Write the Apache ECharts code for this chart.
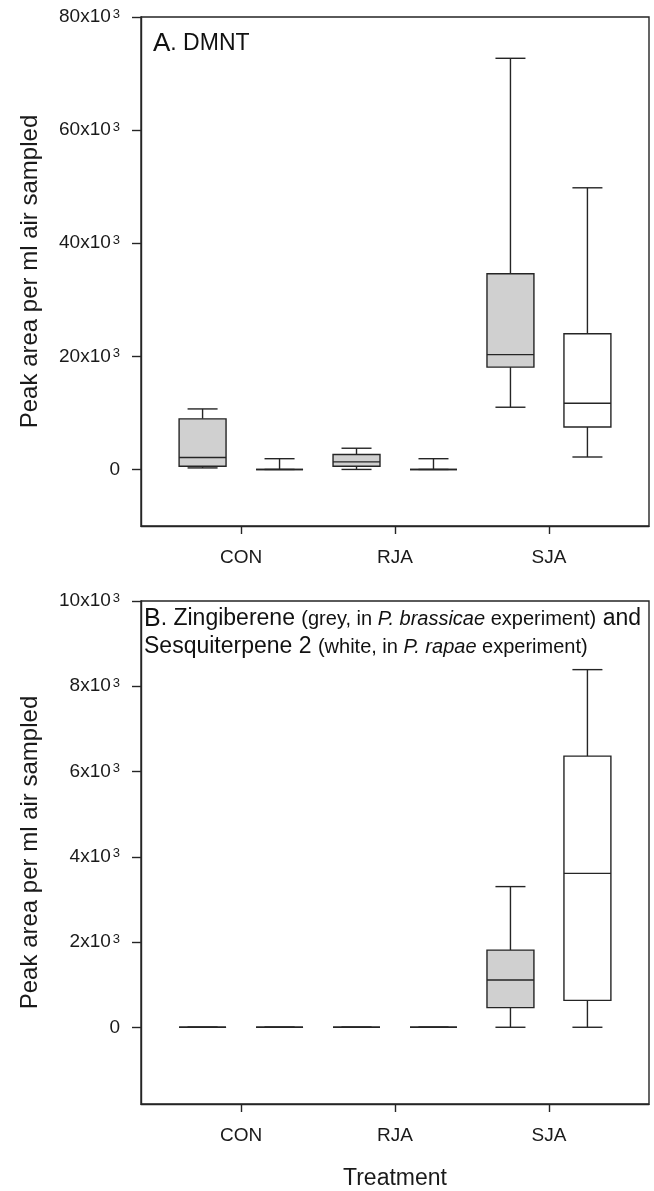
<!DOCTYPE html>
<html>
<head>
<meta charset="utf-8">
<script src="https://cdn.jsdelivr.net/npm/echarts@6/dist/echarts.min.js"></script>
<style>
html,body{margin:0;padding:0;background:#fff;}
#chart{width:654px;height:1191px;}
</style>
</head>
<body>
<div id="chart"></div>
<script>
const categories = ['CON', 'RJA', 'SJA'];
// box stats per treatment: [min, q1, median, q3, max]
const dmntGrey  = [[270, 560, 2100, 8950, 10700], [0, 560, 1330, 2630, 3750], [11000, 18100, 20300, 34600, 72700]];
const dmntWhite = [[0, 0, 0, 0, 1900], [0, 0, 0, 0, 1900], [2200, 7500, 11700, 24000, 49800]];
const sesqGrey  = [[0, 0, 0, 0, 0], [0, 0, 0, 0, 0], [0, 460, 1110, 1810, 3300]];
const sesqWhite = [[0, 0, 0, 0, 0], [0, 0, 0, 0, 0], [0, 630, 3610, 6360, 8390]];
const dmntTicks = [0, 20000, 40000, 60000, 80000];
const sesqTicks = [0, 2000, 4000, 6000, 8000, 10000];
const catTicks = [1, 2, 3];

const FONT = '"Liberation Sans", Arial, Helvetica, sans-serif';
const LINE = '#252525';
const GREY = '#d0d0d0';
const BOX_W = 0.305, CAP_W = 0.195;

function renderBox(fill){
  return function(params, api){
    const x = api.value(0);
    const lo = api.coord([x, api.value(1)]);
    const q1 = api.coord([x, api.value(2)]);
    const md = api.coord([x, api.value(3)]);
    const q3 = api.coord([x, api.value(4)]);
    const hi = api.coord([x, api.value(5)]);
    const bl = api.coord([x - BOX_W / 2, 0])[0], br = api.coord([x + BOX_W / 2, 0])[0];
    const cl = api.coord([x - CAP_W / 2, 0])[0], cr = api.coord([x + CAP_W / 2, 0])[0];
    const cx = lo[0];
    const st = { stroke: LINE, lineWidth: 1.4 };
    return { type: 'group', children: [
      { type: 'line', shape: { x1: cx, y1: hi[1], x2: cx, y2: q3[1] }, style: st },
      { type: 'line', shape: { x1: cx, y1: q1[1], x2: cx, y2: lo[1] }, style: st },
      { type: 'line', shape: { x1: cl, y1: hi[1], x2: cr, y2: hi[1] }, style: st },
      { type: 'line', shape: { x1: cl, y1: lo[1], x2: cr, y2: lo[1] }, style: st },
      { type: 'rect', shape: { x: bl, y: q3[1], width: br - bl, height: q1[1] - q3[1] }, style: { fill: fill, stroke: LINE, lineWidth: 1.4 } },
      { type: 'line', shape: { x1: bl, y1: md[1], x2: br, y2: md[1] }, style: st }
    ]};
  };
}

function boxData(stats, offset){
  return stats.map((s, i) => [i + 1 + offset].concat(s));
}

function sciLabel(v){
  if (v === 0) return '{n|0}';
  return '{n|' + (v / 1000) + 'x10}{s|3}';
}

const labelRich = {
  n: { fontSize: 19, fontFamily: FONT, color: '#1a1a1a', lineHeight: 19, padding: [3, 0, 0, 0], verticalAlign: 'bottom' },
  s: { fontSize: 13, fontFamily: FONT, color: '#1a1a1a', lineHeight: 13, padding: [0, 0, 0, 2], verticalAlign: 'top' }
};

function xAxis(idx, withName){
  return {
    type: 'value', gridIndex: idx, min: 0.35, max: 3.65,
    axisLine: { show: true, onZero: false, lineStyle: { color: LINE, width: 1.4 } },
    axisTick: { show: true, length: 8, customValues: catTicks, lineStyle: { color: LINE, width: 1.4 } },
    axisLabel: { customValues: catTicks, margin: 22, fontSize: 19, fontFamily: FONT, color: '#1a1a1a',
      formatter: v => categories[Math.round(v) - 1] || '' },
    splitLine: { show: false },
    name: withName ? 'Treatment' : '', nameLocation: 'middle', nameGap: 63,
    nameTextStyle: { fontSize: 23, fontFamily: FONT, color: '#1a1a1a' }
  };
}

function yAxis(idx, min, max, ticks){
  return {
    type: 'value', gridIndex: idx, min: min, max: max,
    axisLine: { show: true, lineStyle: { color: LINE, width: 1.4 } },
    axisTick: { show: true, length: 9, customValues: ticks, lineStyle: { color: LINE, width: 1.4 } },
    axisLabel: { customValues: ticks, margin: 21, formatter: sciLabel, rich: labelRich },
    splitLine: { show: false },
    name: 'Peak area per ml air sampled', nameLocation: 'middle', nameGap: 99,
    nameTextStyle: { fontSize: 24, fontFamily: FONT, color: '#1a1a1a' }
  };
}

const chart = echarts.init(document.getElementById('chart'), null, { renderer: 'canvas' });
chart.setOption({
  animation: false,
  backgroundColor: '#fff',
  title: [
    { text: '{a|A}{b|. DMNT}', left: 153, top: 31, padding: 0,
      textStyle: { rich: {
        a: { fontSize: 26, fontFamily: FONT, fontWeight: 'normal', color: '#111', lineHeight: 26 },
        b: { fontSize: 23, fontFamily: FONT, fontWeight: 'normal', color: '#111', lineHeight: 26 }
      } } },
    { text: '{a|B}{b|. Zingiberene }{p|(grey, in }{i|P. brassicae}{p| experiment)}{b| and}\n{b|Sesquiterpene 2 }{p|(white, in }{i|P. rapae}{p| experiment)}',
      left: 144, top: 605, padding: 0,
      textStyle: { rich: {
        a: { fontSize: 25, fontFamily: FONT, fontWeight: 'normal', color: '#111', lineHeight: 28 },
        b: { fontSize: 23, fontFamily: FONT, fontWeight: 'normal', color: '#111', lineHeight: 28 },
        p: { fontSize: 20, fontFamily: FONT, fontWeight: 'normal', color: '#111', lineHeight: 28 },
        i: { fontSize: 20, fontFamily: FONT, fontWeight: 'normal', color: '#111', lineHeight: 28, fontStyle: 'italic' }
      } } }
  ],
  grid: [
    { left: 141, top: 17, width: 508, height: 509, show: true, borderColor: LINE, borderWidth: 1.4, backgroundColor: 'transparent' },
    { left: 141, top: 601, width: 508, height: 508, show: true, borderColor: LINE, borderWidth: 1.4, backgroundColor: 'transparent' }
  ],
  xAxis: [xAxis(0, false), xAxis(1, true)],
  yAxis: [yAxis(0, -10000, 80000, dmntTicks), yAxis(1, -1800, 10000, sesqTicks)],
  series: [
    { type: 'custom', xAxisIndex: 0, yAxisIndex: 0, renderItem: renderBox(GREY), data: boxData(dmntGrey, -0.25), encode: { x: 0, y: [1, 2, 3, 4, 5] } },
    { type: 'custom', xAxisIndex: 0, yAxisIndex: 0, renderItem: renderBox('#fff'), data: boxData(dmntWhite, 0.25), encode: { x: 0, y: [1, 2, 3, 4, 5] } },
    { type: 'custom', xAxisIndex: 1, yAxisIndex: 1, renderItem: renderBox(GREY), data: boxData(sesqGrey, -0.25), encode: { x: 0, y: [1, 2, 3, 4, 5] } },
    { type: 'custom', xAxisIndex: 1, yAxisIndex: 1, renderItem: renderBox('#fff'), data: boxData(sesqWhite, 0.25), encode: { x: 0, y: [1, 2, 3, 4, 5] } }
  ]
});
</script>
</body>
</html>
